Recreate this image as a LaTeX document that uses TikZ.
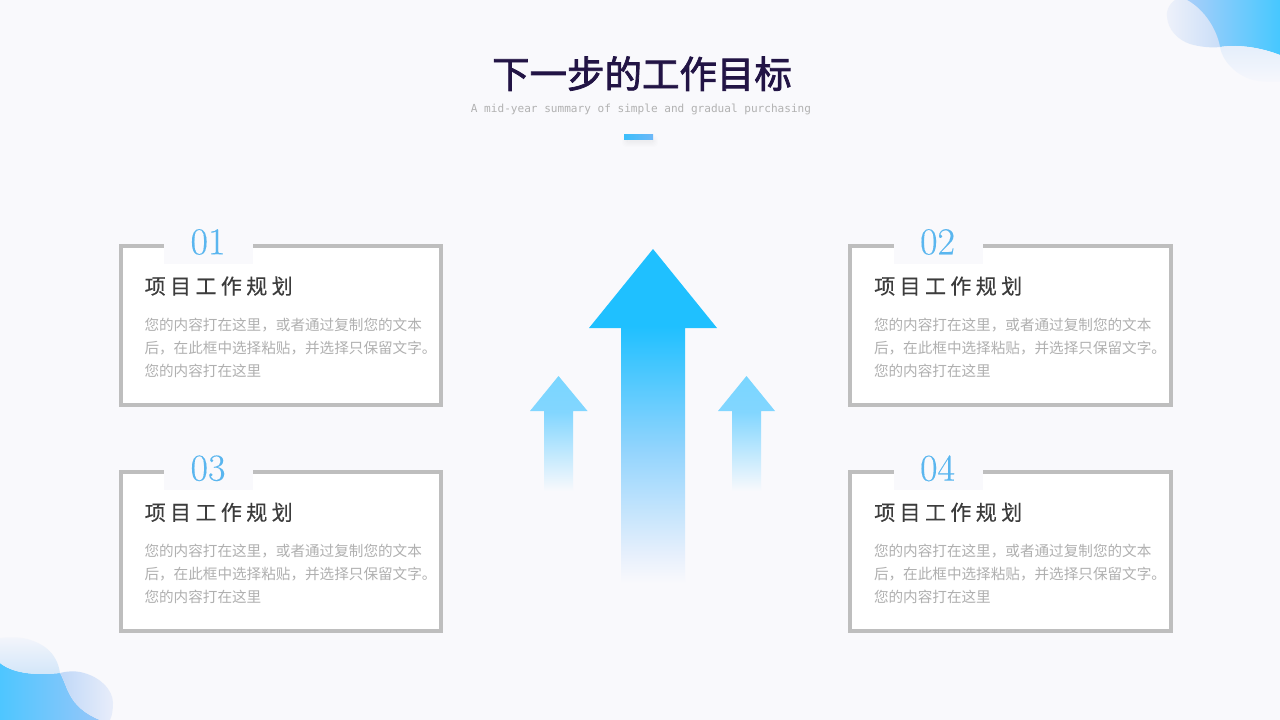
\documentclass[tikz,border=0pt]{standalone}
\usepackage{fontspec}
\setmainfont{Latin Modern Roman}
\newfontfamily\cjk{Noto Sans CJK SC}
\newfontfamily\cjktitle[FakeBold=2]{Noto Sans CJK SC}
\newfontfamily\cjkhead[LetterSpace=21,FakeBold=0.35]{Noto Sans CJK SC}
\newfontfamily\monof{DejaVu Sans Mono}
\newfontfamily\numf[FakeBold=0.25]{Latin Modern Roman}
\definecolor{bgc}{HTML}{F9F9FC}
\definecolor{framec}{HTML}{BEBEBE}
\definecolor{numc}{HTML}{5AB6EF}
\definecolor{headc}{HTML}{3C3C3C}
\definecolor{bodyc}{HTML}{B0B0B0}
\definecolor{titlec}{HTML}{221445}
\definecolor{subc}{HTML}{B2B2B2}
\pgfdeclareverticalshading{mainarrow}{100bp}{color(0bp)=(bgc); color(25bp)=(bgc); color(29bp)=(rgb,255:red,232;green,240;blue,252); color(45bp)=(rgb,255:red,146;green,212;blue,253); color(63.5bp)=(rgb,255:red,31;green,192;blue,255); color(75bp)=(rgb,255:red,31;green,192;blue,255); color(100bp)=(rgb,255:red,31;green,192;blue,255)}
\pgfdeclareverticalshading{smallarrow}{100bp}{color(0bp)=(bgc); color(25bp)=(bgc); color(59.4bp)=(rgb,255:red,130;green,214;blue,255); color(75bp)=(rgb,255:red,122;green,214;blue,255); color(100bp)=(rgb,255:red,122;green,214;blue,255)}
\pgfdeclarehorizontalshading{blueTR}{100bp}{color(0bp)=(rgb,255:red,172;green,206;blue,249); color(25bp)=(rgb,255:red,172;green,206;blue,249); color(75bp)=(rgb,255:red,70;green,200;blue,255); color(100bp)=(rgb,255:red,70;green,200;blue,255)}
\pgfdeclarehorizontalshading{blueBL}{100bp}{color(0bp)=(rgb,255:red,78;green,198;blue,255); color(25bp)=(rgb,255:red,78;green,198;blue,255); color(75bp)=(rgb,255:red,150;green,198;blue,249); color(100bp)=(rgb,255:red,150;green,198;blue,249)}
\pgfdeclarehorizontalshading{paleTR}{100bp}{color(0bp)=(rgb,255:red,238;green,241;blue,250); color(25bp)=(rgb,255:red,238;green,241;blue,250); color(75bp)=(rgb,255:red,202;green,222;blue,248); color(100bp)=(rgb,255:red,202;green,222;blue,248)}
\pgfdeclareverticalshading{paleLow}{100bp}{color(0bp)=(rgb,255:red,246;green,247;blue,252); color(25bp)=(rgb,255:red,246;green,247;blue,252); color(75bp)=(rgb,255:red,228;green,238;blue,251); color(100bp)=(rgb,255:red,228;green,238;blue,251)}
\pgfdeclareverticalshading{paleBL}{100bp}{color(0bp)=(rgb,255:red,210;green,230;blue,249); color(25bp)=(rgb,255:red,210;green,230;blue,249); color(75bp)=(rgb,255:red,243;green,245;blue,251); color(100bp)=(rgb,255:red,243;green,245;blue,251)}
\pgfdeclarehorizontalshading{paleBR}{100bp}{color(0bp)=(rgb,255:red,192;green,216;blue,248); color(25bp)=(rgb,255:red,192;green,216;blue,248); color(75bp)=(rgb,255:red,232;green,237;blue,250); color(100bp)=(rgb,255:red,232;green,237;blue,250)}
\pgfdeclarehorizontalshading{barshade}{100bp}{color(0bp)=(rgb,255:red,60;green,190;blue,250); color(25bp)=(rgb,255:red,60;green,190;blue,250); color(75bp)=(rgb,255:red,110;green,184;blue,248); color(100bp)=(rgb,255:red,110;green,184;blue,248)}
\tikzset{
  txt/.style={inner sep=0pt,outer sep=0pt},
  framebox/.style={draw=framec,line width=3pt,fill=white,miter limit=10},
  patch/.style={fill=bgc,draw=none},
  numlabel/.style={txt,text=numc,font=\numf\fontsize{28.5pt}{28.5pt}\selectfont,anchor=center},
  headlabel/.style={txt,text=headc,anchor=base west,font=\cjkhead\fontsize{15.75pt}{19pt}\selectfont},
  bodylabel/.style={txt,text=bodyc,anchor=north west,align=left,font=\cjk\fontsize{10.95pt}{17.25pt}\selectfont},
}
\newcommand{\infocard}[3]{%
\begin{scope}[shift={(#1,#2)},name prefix=card#3-]
  \draw[framebox] (120.5,246) rectangle (441,405);
  \fill[patch] (164,226) rectangle (253,264);
  \node[numlabel] (num) at (208,242) {0#3};
  \node[headlabel] (head) at (144.7,294) {项目工作规划};
  \node[bodylabel] (body) at (144.5,318) {您的内容打在这里，或者通过复制您的文本\\后，在此框中选择粘贴，并选择只保留文字。\\您的内容打在这里};
\end{scope}}
\begin{document}
\begin{tikzpicture}[x=0.75pt,y=-0.75pt]
\useasboundingbox (0,0) rectangle (1280,720);
\fill[bgc] (0,0) rectangle (1280,720);
% top-right blobs
\shade[shading=blueTR] (1183,0) -- (1280,0) -- (1280,55) .. controls (1262,48) and (1240,44) .. (1220,47) -- (1190,30) -- cycle;
\shade[shading=paleLow] (1220,47) .. controls (1222,60) and (1235,75) .. (1253,80) .. controls (1262,82) and (1272,82) .. (1280,82) -- (1280,55) .. controls (1262,48) and (1240,44) .. (1220,47) -- cycle;
\shade[shading=paleTR] (1175,0) .. controls (1168,5) and (1166,12) .. (1167,17) .. controls (1168,30) and (1178,40) .. (1190,44) .. controls (1200,47) and (1212,48) .. (1220,47) .. controls (1217,30) and (1205,10) .. (1187,0) -- cycle;
% bottom-left blobs
\shade[shading=blueBL] (0,663) .. controls (15,675) and (40,675) .. (60,673) .. controls (64,680) and (66,688) .. (70,695) .. controls (75,705) and (85,714) .. (100,720) -- (0,720) -- cycle;
\shade[shading=paleBL] (0,638) .. controls (8,637) and (15,637) .. (23,638) .. controls (42,642) and (57,652) .. (60,673) .. controls (40,675) and (15,675) .. (0,663) -- cycle;
\shade[shading=paleBR] (60,673) .. controls (67,671) and (75,671) .. (80,672) .. controls (100,676) and (113,690) .. (113,703) .. controls (113,710) and (112,716) .. (110,720) -- (100,720) .. controls (85,714) and (75,705) .. (70,695) .. controls (66,688) and (64,680) .. (60,673) -- cycle;
% title
\node[txt,anchor=base,text=titlec,font=\cjktitle\fontsize{28.1pt}{32pt}\selectfont] (title) at (642,88) {下一步的工作目标};
\node[txt,anchor=base,text=subc,font=\monof\fontsize{8.31pt}{10pt}\selectfont] (subtitle) at (641,112.5) {A mid-year summary of simple and gradual purchasing};
% accent bar with soft shadow
\foreach \g in {0,1,2,3,4,5}{\fill[black,opacity=0.007,rounded corners=3pt] (627-\g,140-\g) rectangle (653+\g,142+\g);}
\shade[shading=barshade] (624,135) rectangle (653,140);
% arrows
\shade[shading=mainarrow] (653,249) -- (717,328) -- (685,328) -- (685,583) -- (621,583) -- (621,328) -- (589,328) -- cycle;
\shade[shading=smallarrow] (558.5,376) -- (587.5,411) -- (573,411) -- (573,491) -- (544,491) -- (544,411) -- (530,411) -- cycle;
\shade[shading=smallarrow] (746.5,376) -- (775,411) -- (761,411) -- (761,491) -- (732,491) -- (732,411) -- (718,411) -- cycle;
% cards
\infocard{0}{0}{1}
\infocard{729.5}{0}{2}
\infocard{0}{226.3}{3}
\infocard{729.5}{226.3}{4}
\end{tikzpicture}
\end{document}
